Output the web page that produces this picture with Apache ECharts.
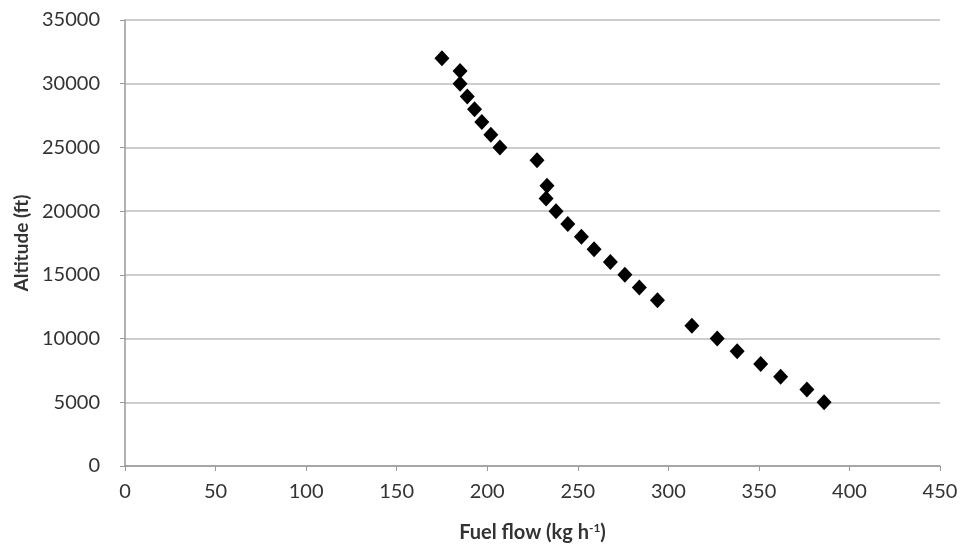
<!DOCTYPE html>
<html>
<head>
<meta charset="utf-8">
<script src="https://cdn.jsdelivr.net/npm/echarts@6/dist/echarts.min.js"></script>
<style>
  html, body { margin: 0; padding: 0; background: #fff; }
  #main { width: 960px; height: 544px; }
</style>
</head>
<body>
<div id="main"></div>
<script>
// fuel flow (kg/h) vs altitude (ft)
var fuelFlow = [175, 185, 185, 189, 193, 197, 202, 207, 227.5, 233, 232.5, 238, 244.5, 252, 259, 268, 276, 284, 294, 313, 327, 338, 351, 362, 376.5, 386];
var altitude = [32000, 31000, 30000, 29000, 28000, 27000, 26000, 25000, 24000, 22000, 21000, 20000, 19000, 18000, 17000, 16000, 15000, 14000, 13000, 11000, 10000, 9000, 8000, 7000, 6000, 5000];

var points = fuelFlow.map(function (x, i) { return [x, altitude[i]] })

var chart = echarts.init(document.getElementById('main'))
var labelFont = 'Lato, "Open Sans", sans-serif'

chart.setOption({
  animation: false,
  grid: { left: 125, right: 20, top: 20, bottom: 78, outerBoundsMode: 'none', containLabel: false },
  xAxis: {
    type: 'value',
    min: 0, max: 450, interval: 50,
    name: '{n|Fuel flow (kg h}{s|-1}{n|)}',
    nameLocation: 'middle',
    nameGap: 56,
    nameTextStyle: {
      rich: {
        n: { fontFamily: labelFont, fontWeight: 'bold', fontSize: 20, color: '#333' },
        s: { fontFamily: labelFont, fontWeight: 'bold', fontSize: 12, color: '#333', verticalAlign: 'top', padding: [0, 0, 10, 0] }
      }
    },
    axisLine: { show: true, lineStyle: { color: '#999', width: 1.5 } },
    axisTick: { show: true, length: 5, lineStyle: { color: '#999' } },
    axisLabel: { fontFamily: labelFont, fontSize: 20, color: '#333', margin: 16 },
    splitLine: { show: false }
  },
  yAxis: {
    type: 'value',
    min: 0, max: 35000, interval: 5000,
    name: 'Altitude (ft)',
    nameLocation: 'middle',
    nameGap: 94,
    nameTextStyle: { fontFamily: labelFont, fontWeight: 'bold', fontSize: 19, color: '#333' },
    axisLine: { show: true, lineStyle: { color: '#999', width: 1.5 } },
    axisTick: { show: true, length: 5, lineStyle: { color: '#999' } },
    axisLabel: {
      fontFamily: labelFont, fontSize: 20, color: '#333', margin: 25,
      formatter: function (v) { return String(v) }
    },
    splitLine: { show: true, lineStyle: { color: '#bdbdbd', width: 1.5 } }
  },
  series: [{
    type: 'scatter',
    data: points,
    symbol: 'diamond',
    symbolSize: [15, 16],
    itemStyle: { color: '#000', opacity: 1 }
  }]
})
</script>
</body>
</html>
